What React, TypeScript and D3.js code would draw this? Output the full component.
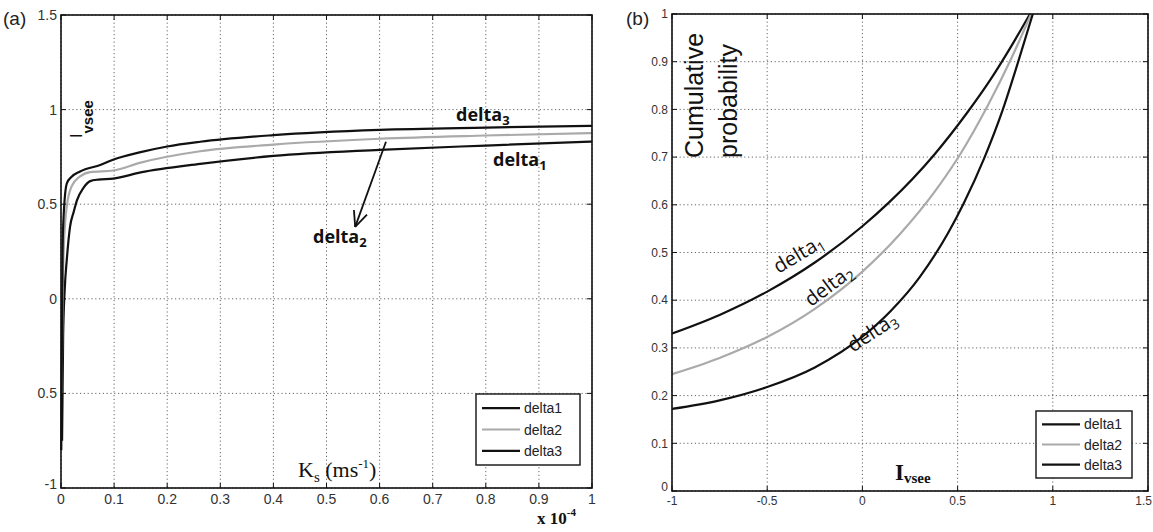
import React from "react";
import * as d3 from "d3";

// ---------- Data ----------
// Panel (a): Ivsee vs Ks (x in units of 1e-4 m/s)
const aDelta1X = [0.002, 0.004, 0.007, 0.011, 0.017, 0.024, 0.03, 0.042, 0.055, 0.07, 0.098, 0.15, 0.262, 0.4, 0.6, 0.8, 1.0];
const aDelta1Y = [-0.75, -0.2, 0.05, 0.21, 0.38, 0.46, 0.52, 0.585, 0.622, 0.63, 0.635, 0.668, 0.713, 0.755, 0.787, 0.81, 0.831];
const aDelta2X = [0.001, 0.003, 0.0057, 0.011, 0.02, 0.036, 0.055, 0.098, 0.15, 0.262, 0.4, 0.6, 0.8, 1.0];
const aDelta2Y = [-0.5, 0.0, 0.296, 0.49, 0.594, 0.647, 0.67, 0.678, 0.72, 0.78, 0.815, 0.846, 0.863, 0.876];
const aDelta3X = [0.0005, 0.002, 0.003, 0.005, 0.011, 0.02, 0.036, 0.075, 0.098, 0.15, 0.2, 0.262, 0.4, 0.6, 0.8, 1.0];
const aDelta3Y = [-0.8, -0.1, 0.26, 0.44, 0.61, 0.645, 0.673, 0.708, 0.735, 0.775, 0.805, 0.83, 0.865, 0.893, 0.905, 0.914];

const aXTicks = [0, 0.1, 0.2, 0.3, 0.4, 0.5, 0.6, 0.7, 0.8, 0.9, 1];
const aXTickLabels = ["0", "0.1", "0.2", "0.3", "0.4", "0.5", "0.6", "0.7", "0.8", "0.9", "1"];
const aYTicks = [-1, -0.5, 0, 0.5, 1, 1.5];
const aYTickLabels = ["-1", "0.5", "0", "0.5", "1", "1.5"];

// Panel (b): cumulative probability vs Ivsee
const bDelta1X = [-1, -0.75, -0.5, -0.25, 0, 0.14, 0.375, 0.55, 0.675, 0.79, 0.88];
const bDelta1Y = [0.33, 0.369, 0.418, 0.479, 0.555, 0.605, 0.704, 0.793, 0.864, 0.938, 1.0];
const bDelta2X = [-1, -0.75, -0.5, -0.25, 0, 0.2, 0.375, 0.517, 0.66, 0.78, 0.886];
const bDelta2Y = [0.245, 0.279, 0.323, 0.382, 0.46, 0.54, 0.625, 0.708, 0.809, 0.905, 1.0];
const bDelta3X = [-1, -0.75, -0.5, -0.25, 0, 0.15, 0.3, 0.45, 0.533, 0.64, 0.736, 0.816, 0.895];
const bDelta3Y = [0.172, 0.19, 0.218, 0.259, 0.3235, 0.378, 0.448, 0.541, 0.604, 0.698, 0.798, 0.897, 1.0];

const bXTicks = [-1, -0.5, 0, 0.5, 1, 1.5];
const bXTickLabels = ["-1", "-0.5", "0", "0.5", "1", "1.5"];
const bYTicks = [0, 0.1, 0.2, 0.3, 0.4, 0.5, 0.6, 0.7, 0.8, 0.9, 1];
const bYTickLabels = ["0", "0.1", "0.2", "0.3", "0.4", "0.5", "0.6", "0.7", "0.8", "0.9", "1"];

const legendNames = ["delta1", "delta2", "delta3"];
const seriesColors = ["#111", "#aaa", "#111"];

const SANS = "'Liberation Sans', Arial, sans-serif";
const SERIF = "'Liberation Serif', 'Times New Roman', serif";
const CAL = "'Open Sans', 'DejaVu Sans', sans-serif";

type Pt = [number, number];
const zip = (xs: number[], ys: number[]): Pt[] => xs.map((x, i) => [x, ys[i]]);

function Panel(props: {
  x0: number; x1: number; y0: number; y1: number;
  xDomain: [number, number]; yDomain: [number, number];
  xTicks: number[]; xLabels: string[]; yTicks: number[]; yLabels: string[];
  series: Pt[][]; tickFont: number; lastXEnd?: boolean;
  legend: { x: number; y: number; w: number; h: number; font: number };
}) {
  const { x0, x1, y0, y1 } = props;
  const xs = d3.scaleLinear().domain(props.xDomain).range([x0, x1]);
  const ys = d3.scaleLinear().domain(props.yDomain).range([y1, y0]);
  const line = d3.line<Pt>().x(d => xs(d[0])).y(d => ys(d[1])).curve(d3.curveMonotoneX);
  const tl = 5;
  const lg = props.legend;
  const nX = props.xTicks.length;
  return (
    <g>
      {props.xTicks.map((t, i) => (
        <line key={"gx" + i} x1={xs(t)} x2={xs(t)} y1={y0} y2={y1} stroke="#666" strokeWidth={1} strokeDasharray="1.2,2.6" />
      ))}
      {props.yTicks.map((t, i) => (
        <line key={"gy" + i} x1={x0} x2={x1} y1={ys(t)} y2={ys(t)} stroke="#666" strokeWidth={1} strokeDasharray="1.2,2.6" />
      ))}
      {props.xTicks.map((t, i) => (
        <g key={"tx" + i}>
          <line x1={xs(t)} x2={xs(t)} y1={y1} y2={y1 - tl} stroke="#111" strokeWidth={1} />
          <line x1={xs(t)} x2={xs(t)} y1={y0} y2={y0 + tl} stroke="#111" strokeWidth={1} />
        </g>
      ))}
      {props.yTicks.map((t, i) => (
        <g key={"ty" + i}>
          <line x1={x0} x2={x0 + tl} y1={ys(t)} y2={ys(t)} stroke="#111" strokeWidth={1} />
          <line x1={x1} x2={x1 - tl} y1={ys(t)} y2={ys(t)} stroke="#111" strokeWidth={1} />
        </g>
      ))}
      {props.series.map((s, i) => (
        <path key={"s" + i} d={line(s) || ""} fill="none" stroke={seriesColors[i]} strokeWidth={2.2} />
      ))}
      <rect x={x0} y={y0} width={x1 - x0} height={y1 - y0} fill="none" stroke="#111" strokeWidth={1.6} />
      {props.xTicks.map((t, i) => {
        const last = props.lastXEnd && i === nX - 1;
        return (
          <text key={"lx" + i} x={last ? 1152 : xs(t)} y={y1 + props.tickFont + 2} textAnchor={last ? "end" : "middle"} fontFamily={SANS} fontSize={props.tickFont} fill="#333">{props.xLabels[i]}</text>
        );
      })}
      {props.yTicks.map((t, i) => (
        <text key={"ly" + i} x={x0 - 4} y={ys(t) + props.tickFont * 0.35 - (i === 0 ? 4 : 0)} textAnchor="end" fontFamily={SANS} fontSize={props.tickFont} fill="#333">{props.yLabels[i]}</text>
      ))}
      <rect x={lg.x} y={lg.y} width={lg.w} height={lg.h} fill="#fff" stroke="#111" strokeWidth={1.4} />
      {legendNames.map((n, i) => {
        const cy = lg.y + lg.h * (0.2 + 0.3 * i);
        return (
          <g key={"lg" + i}>
            <line x1={lg.x + 6} x2={lg.x + 44} y1={cy} y2={cy} stroke={seriesColors[i]} strokeWidth={2.2} />
            <text x={lg.x + 48} y={cy + lg.font * 0.36} fontFamily={SANS} fontSize={lg.font} fill="#222">{n}</text>
          </g>
        );
      })}
    </g>
  );
}

export default function App() {
  const ax0 = 61, ax1 = 592, ay0 = 15, ay1 = 488;
  const bx0 = 672, bx1 = 1148, by0 = 14, by1 = 491;
  const axS = d3.scaleLinear().domain([0, 1]).range([ax0, ax1]);
  const ayS = d3.scaleLinear().domain([-1, 1.5]).range([ay1, ay0]);
  const bxS = d3.scaleLinear().domain([-1, 1.5]).range([bx0, bx1]);
  const byS = d3.scaleLinear().domain([0, 1]).range([by1, by0]);

  const arS: Pt = [0.612, 0.83];
  const arE: Pt = [0.554, 0.38];
  const sx = axS(arS[0]), sy = ayS(arS[1]), ex = axS(arE[0]), ey = ayS(arE[1]);
  const ang = Math.atan2(ey - sy, ex - sx);
  const hl = 17, ha = 0.42;

  const rotLabel = (xv: number, yv: number, angle: number, sub: string, key: string) => (
    <text key={key} transform={`translate(${bxS(xv)},${byS(yv)}) rotate(${angle})`} fontFamily={CAL} fontSize={20} fill="#111">
      delta<tspan fontSize={14} dy={4}>{sub}</tspan>
    </text>
  );

  return (
    <div style={{ position: "absolute", left: 0, top: 0 }}>
      <svg width={1153} height={532} style={{ display: "block", background: "#fff" }}>
        <Panel x0={ax0} x1={ax1} y0={ay0} y1={ay1} xDomain={[0, 1]} yDomain={[-1, 1.5]}
          xTicks={aXTicks} xLabels={aXTickLabels} yTicks={aYTicks} yLabels={aYTickLabels}
          series={[zip(aDelta1X, aDelta1Y), zip(aDelta2X, aDelta2Y), zip(aDelta3X, aDelta3Y)]}
          tickFont={14} legend={{ x: 476, y: 394, w: 104, h: 71, font: 14 }} />
        <Panel x0={bx0} x1={bx1} y0={by0} y1={by1} xDomain={[-1, 1.5]} yDomain={[0, 1]}
          xTicks={bXTicks} xLabels={bXTickLabels} yTicks={bYTicks} yLabels={bYTickLabels}
          series={[zip(bDelta1X, bDelta1Y), zip(bDelta2X, bDelta2Y), zip(bDelta3X, bDelta3Y)]}
          tickFont={12} lastXEnd legend={{ x: 1036, y: 411, w: 96, h: 67, font: 14 }} />

        <text x={3} y={25} fontFamily={SANS} fontSize={19} fill="#222">(a)</text>
        <text x={626} y={25} fontFamily={SANS} fontSize={19} fill="#222">(b)</text>

        <text transform="translate(82,138) rotate(-90)" fontFamily={SANS} fontSize={16} fill="#111">
          I<tspan fontSize={15} fontWeight="bold" dy={11}>vsee</tspan>
        </text>
        <text x={298} y={477} fontFamily={SERIF} fontSize={22} fill="#111">
          K<tspan fontSize={15} dy={5}>s</tspan><tspan dy={-5}> (ms</tspan><tspan fontSize={13} dy={-9}>-1</tspan><tspan dy={9}>)</tspan>
        </text>
        <text x={537} y={524} fontFamily={SERIF} fontSize={17} fontWeight="bold" fill="#111">
          x 10<tspan fontSize={11} dy={-8}>-4</tspan>
        </text>

        <text x={456} y={121} fontFamily={CAL} fontSize={18} fontWeight="bold" fill="#111">delta<tspan fontSize={13} dy={4}>3</tspan></text>
        <text x={493} y={166} fontFamily={CAL} fontSize={18} fontWeight="bold" fill="#111">delta<tspan fontSize={13} dy={4}>1</tspan></text>
        <text x={313} y={243} fontFamily={CAL} fontSize={18} fontWeight="bold" fill="#111">delta<tspan fontSize={13} dy={4}>2</tspan></text>
        <line x1={sx} y1={sy} x2={ex} y2={ey} stroke="#111" strokeWidth={1.8} />
        <line x1={ex} y1={ey} x2={ex - hl * Math.cos(ang - ha)} y2={ey - hl * Math.sin(ang - ha)} stroke="#111" strokeWidth={1.8} />
        <line x1={ex} y1={ey} x2={ex - hl * Math.cos(ang + ha)} y2={ey - hl * Math.sin(ang + ha)} stroke="#111" strokeWidth={1.8} />

        <text transform="translate(703,158) rotate(-90)" fontFamily={SANS} fontSize={25} fill="#111">Cumulative</text>
        <text transform="translate(737,158) rotate(-90)" fontFamily={SANS} fontSize={25} fill="#111">probability</text>
        <text x={895} y={480} fontFamily={SERIF} fontSize={23} fontWeight="bold" fill="#111">
          I<tspan fontSize={15} dy={3}>vsee</tspan>
        </text>

        {rotLabel(-0.44, 0.455, -31, "1", "r1")}
        {rotLabel(-0.27, 0.385, -37, "2", "r2")}
        {rotLabel(-0.05, 0.29, -33, "3", "r3")}
      </svg>
    </div>
  );
}
